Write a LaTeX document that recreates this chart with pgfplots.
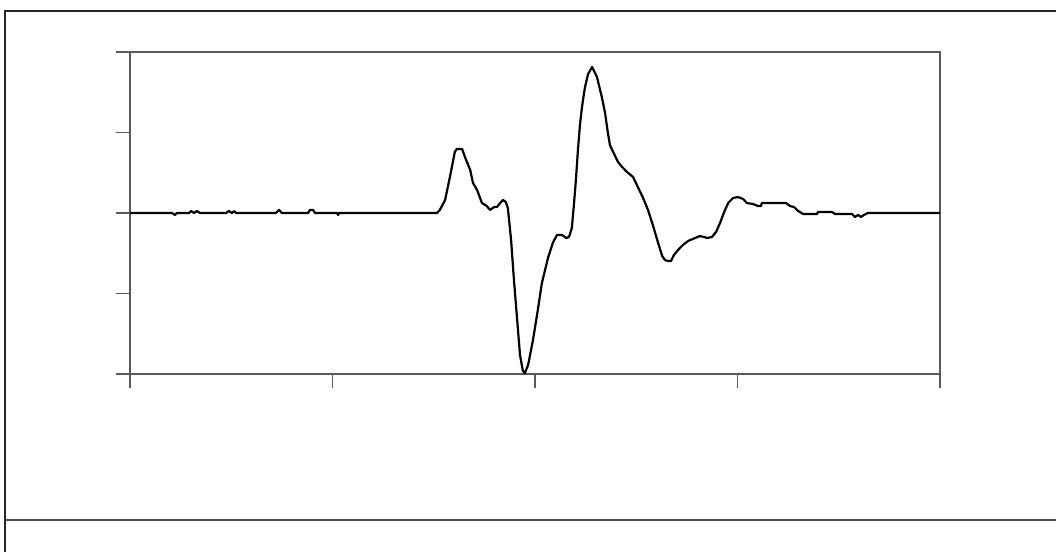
\documentclass[border=0pt]{standalone}
\usepackage{pgfplots}
\pgfplotsset{compat=1.18}

\pgfplotstableread{
x y
0 0
10.4 0
11.1 -1.2
11.6 0
14.6 0
15.1 1.2
15.8 0
16.5 1.2
17.3 0
23.7 0
24.4 1.2
25.2 0
25.7 1.2
26.2 0
36.0 0
36.8 1.9
37.5 0
44.0 0
44.4 1.9
45.2 1.9
45.7 0
51.1 0
51.4 -1.2
51.6 0
75.8 0
76.5 1.9
77.8 8.1
79.0 22.4
80.2 37.9
80.7 39.8
82.0 39.8
82.7 34.8
84.0 26.7
84.7 18.6
85.7 14.3
86.9 6.2
88.1 4.3
88.9 1.9
89.9 3.7
90.6 3.7
91.4 6.2
92.1 8.1
92.8 6.8
93.3 3.1
94.1 -16.8
94.8 -41.6
95.6 -66.5
96.3 -88.2
97.0 -98.1
97.5 -99.4
98.3 -94.4
99.5 -78.9
100.7 -60.2
101.7 -43.5
103.2 -28.0
104.4 -18.6
105.4 -13.7
106.7 -13.7
107.7 -15.5
108.4 -14.9
109.1 -9.3
109.6 5.0
110.1 20.5
110.6 39.1
111.1 54.7
111.6 65.8
112.3 77.6
113.1 86.3
114.1 90.7
115.3 84.5
116.5 72.0
117.3 62.1
118.0 49.7
118.5 42.2
119.3 37.9
120.5 31.7
121.5 28.6
122.7 25.5
124.2 22.4
125.4 16.1
126.7 9.3
127.9 1.9
129.1 -7.5
130.4 -18.6
131.4 -26.7
132.1 -29.2
132.8 -29.8
133.6 -29.8
134.3 -26.1
135.3 -23.0
136.5 -19.9
137.8 -17.4
139.0 -16.1
140.7 -14.3
141.7 -14.9
142.5 -15.5
143.7 -14.9
144.7 -11.8
145.7 -6.2
146.7 0.6
147.7 6.2
148.9 9.3
150.1 9.9
151.4 8.7
152.3 6.2
153.8 5.6
155.1 4.3
155.8 4.3
156.0 6.2
162.0 6.2
163.0 4.3
164.0 3.7
165.0 1.2
166.2 -0.6
169.6 -0.6
169.9 0.6
173.3 0.6
174.1 -0.6
178.3 -0.6
179.0 -2.5
179.8 -1.2
180.5 -2.5
181.2 -1.2
182.2 0
200 0
}\signal

\begin{document}
\begin{tikzpicture}
\path[use as bounding box] (0,0) rectangle (528pt,276pt);
% scanned page frame
\draw[line width=1.2pt, black!85] (2.5pt,0) -- (2.5pt,270.5pt) -- (528pt,270.5pt);
\draw[line width=1pt, black!70] (2.5pt,16pt) -- (528pt,16pt);

\begin{axis}[
  at={(65pt,89pt)}, anchor=south west,
  scale only axis,
  width=405pt, height=161pt,
  xmin=0, xmax=200,
  ymin=-100, ymax=100,
  xtick={0,50,100,150,200},
  ytick={-100,-50,0,50,100},
  xticklabels={}, yticklabels={},
  tick align=outside,
  tick pos=left,
  major tick length=7pt,
  axis line style={black!65, line width=0.6pt},
  every tick/.style={black!65, line width=0.6pt},
  clip=false
]
\addplot[black, line width=1.1pt, line join=round] table {\signal};
\end{axis}
\end{tikzpicture}
\end{document}
